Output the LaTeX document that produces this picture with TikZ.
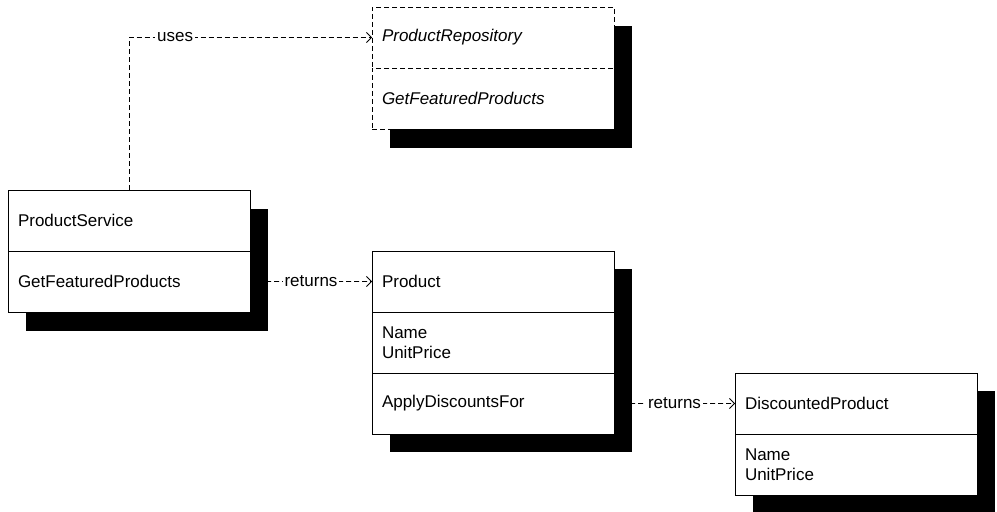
\documentclass[tikz,border=0pt]{standalone}
\usepackage{fontspec}
\setmainfont{Liberation Sans}
\usetikzlibrary{arrows.meta,calc,backgrounds}
\begin{document}
\begin{tikzpicture}[x=1bp,y=-1bp,
  cell/.style={draw, line width=0.9bp, fill=white, minimum height=61bp,
    text width=222bp, inner xsep=10bp, inner ysep=0pt, outer sep=0pt, align=left,
    anchor=north west, font=\fontsize{17bp}{20bp}\selectfont},
  icell/.style={cell, dash pattern=on 5bp off 3bp, font=\fontsize{17bp}{20bp}\selectfont\itshape},
  dep/.style={draw, line width=0.8bp, dash pattern=on 5bp off 3bp,
    -{Straight Barb[length=5bp,width=10bp]}},
  lbl/.style={fill=white, inner sep=2bp, font=\fontsize{17bp}{20bp}\selectfont},
  shadowbox/.style={fill=black}
]
\useasboundingbox (0,0) rectangle (997,512);

% ProductRepository
\node[icell] (pr1) at (372,7) {ProductRepository};
\node[icell] (pr2) at (pr1.south west) {GetFeaturedProducts};

% ProductService
\node[cell] (ps1) at (8,190) {ProductService};
\node[cell] (ps2) at (ps1.south west) {GetFeaturedProducts};

% Product
\node[cell] (p1) at (372,251) {Product};
\node[cell] (p2) at (p1.south west) {Name\\UnitPrice};
\node[cell] (p3) at (p2.south west) {ApplyDiscountsFor};

% DiscountedProduct
\node[cell] (d1) at (735,373) {DiscountedProduct};
\node[cell] (d2) at (d1.south west) {Name\\UnitPrice};

\begin{scope}[on background layer]
  \fill[shadowbox] ($(pr1.north west)+(18,19)$) rectangle ($(pr2.south east)+(18,19)$);
  \fill[shadowbox] ($(ps1.north west)+(18,19)$) rectangle ($(ps2.south east)+(18,19)$);
  \fill[shadowbox] ($(p1.north west)+(18,18)$) rectangle ($(p3.south east)+(18,18)$);
  \fill[shadowbox] ($(d1.north west)+(18,18)$) rectangle ($(d2.south east)+(18,18)$);
\end{scope}

% connectors
\draw[dep] (ps1.north) |- node[lbl, pos=0.595] {uses} (pr1.west);
\draw[dep] (ps2.east) -- node[lbl] {returns} (p1.west);
\draw[dep] (p3.east) -- node[lbl] {returns} (d1.west);
\end{tikzpicture}
\end{document}
